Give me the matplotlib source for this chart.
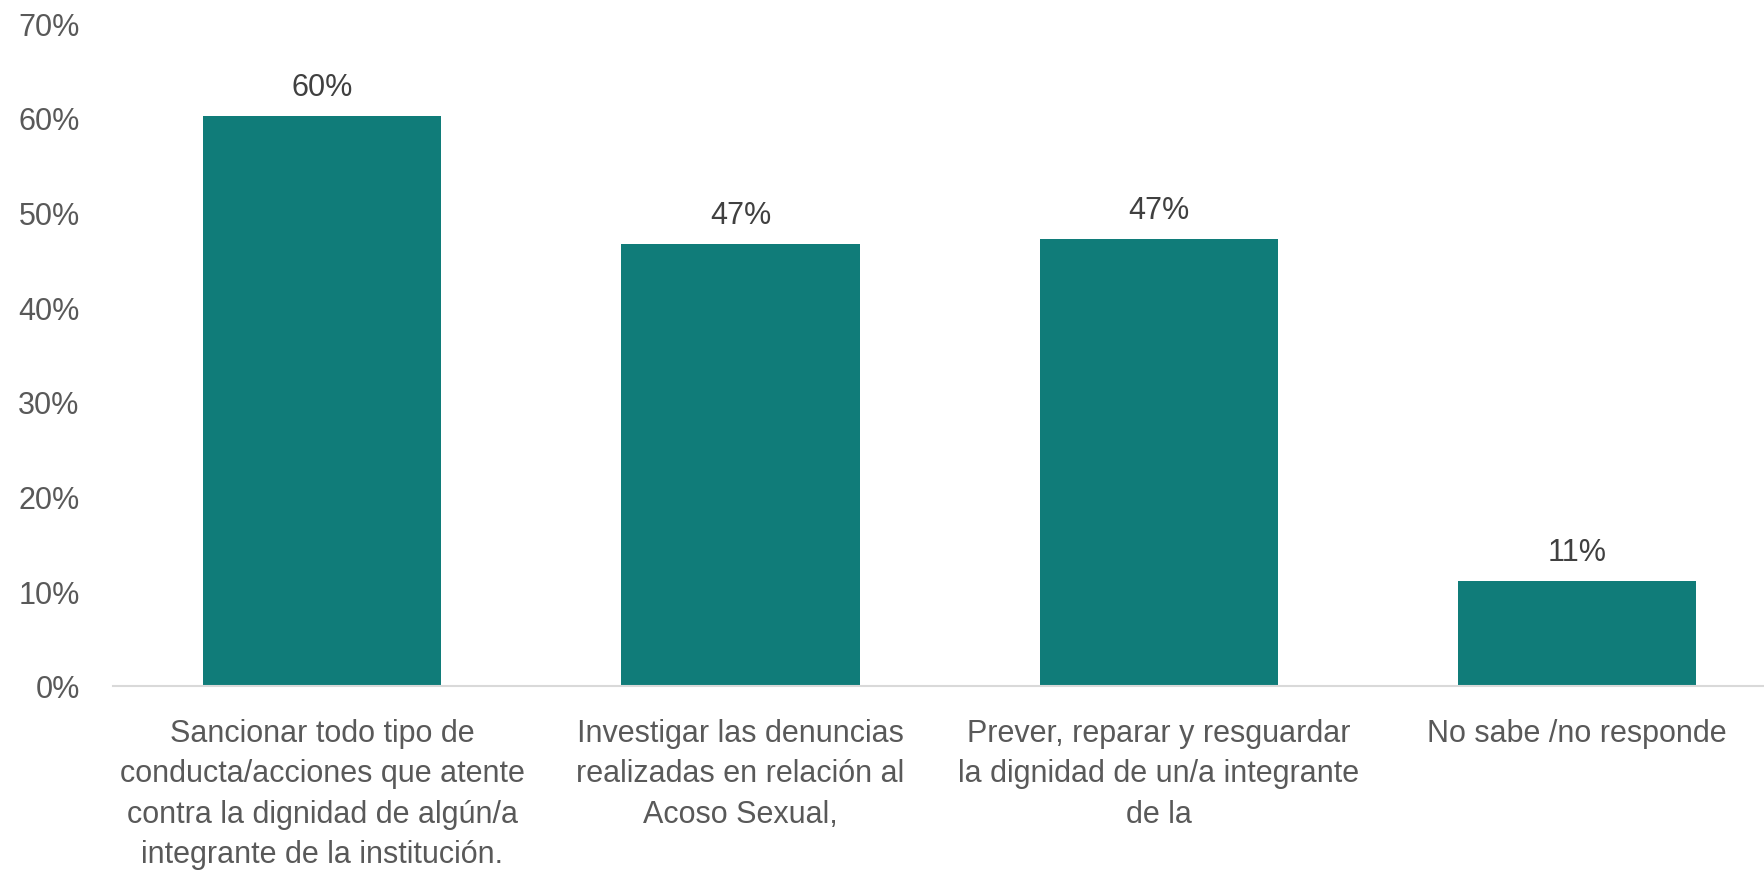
import matplotlib.pyplot as plt
from matplotlib.ticker import PercentFormatter

categorias = [
    'Sancionar todo tipo de\nconducta/acciones que atente\ncontra la dignidad de algún/a\nintegrante de la institución.',
    'Investigar las denuncias\nrealizadas en relación al\nAcoso Sexual,',
    'Prever, reparar y resguardar\nla dignidad de un/a integrante\nde la',
    'No sabe /no responde',
]
valores = [60.2, 46.7, 47.2, 11.1]
etiquetas = ['60%', '47%', '47%', '11%']

plt.rcParams['font.family'] = ['Liberation Sans', 'DejaVu Sans']

fig = plt.figure(figsize=(17.64, 8.79), dpi=100)
# ejes colocados en pixeles de la imagen original
ax = fig.add_axes([113 / 1764, 1 - 687 / 879, 1 - 113 / 1764, (687 - 24) / 879])

x = range(len(categorias))
barras = ax.bar(x, valores, width=0.57, color='#107C79')

for b, t in zip(barras, etiquetas):
    ax.annotate(t, (b.get_x() + b.get_width() / 2, b.get_height()),
                xytext=(0, 10), textcoords='offset points',
                ha='center', va='bottom', fontsize=22, color='#404040')

ax.set_xlim(-0.5, 3.447)
ax.set_ylim(0, 70)
ax.set_yticks(range(0, 71, 10))
ax.yaxis.set_major_formatter(PercentFormatter(decimals=0))
ax.set_xticks(list(x))
ax.set_xticklabels(categorias, fontsize=22, color='#595959', linespacing=1.45)
ax.tick_params(axis='y', labelsize=22, labelcolor='#595959', length=0, pad=24)
ax.tick_params(axis='x', length=0, pad=23)

for s in ['top', 'right', 'left']:
    ax.spines[s].set_visible(False)
ax.spines['bottom'].set_color('#D9D9D9')
ax.spines['bottom'].set_linewidth(1.5)

fig.savefig('out.png', dpi=100)
